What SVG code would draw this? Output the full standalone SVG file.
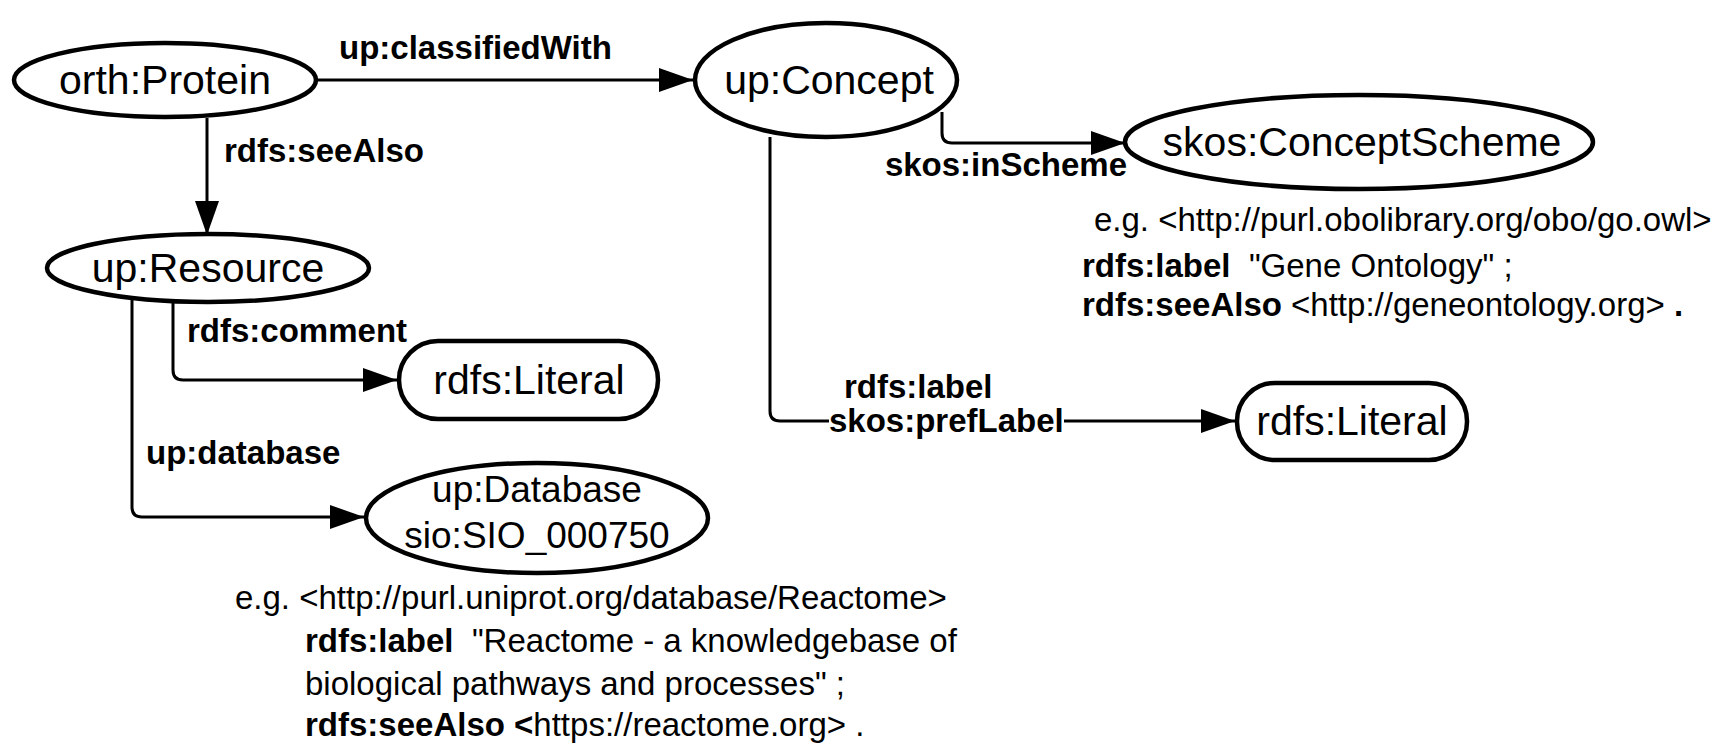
<svg xmlns="http://www.w3.org/2000/svg" width="1733" height="748" viewBox="0 0 1733 748">
<style>
.n{fill:#fff;stroke:#000;stroke-width:4.5}
.t{font-family:"Liberation Sans",Arial,sans-serif;font-size:41px;fill:#000;text-anchor:middle}
.s{font-size:37px}
.c{fill:none;stroke:#000;stroke-width:3;stroke-linejoin:round}
.l{font-family:"Liberation Sans",Arial,sans-serif;font-size:33px;font-weight:bold;fill:#000}
.d{font-family:"Liberation Sans",Arial,sans-serif;font-size:33px;fill:#000;white-space:pre}
.b{font-weight:bold}
</style>
<defs>
<marker id="a" markerUnits="userSpaceOnUse" markerWidth="35" markerHeight="24" refX="34" refY="12" orient="auto">
<path d="M0,0 L34,12 L0,24 Z" fill="#000"/>
</marker>
</defs>
<rect width="1733" height="748" fill="#fff"/>
<g id="connectors">
<path class="c" d="M318,80 H693" marker-end="url(#a)"/>
<path class="c" d="M207,118 V235" marker-end="url(#a)"/>
<path class="c" d="M942,112 V133 Q942,143 952,143 H1125" marker-end="url(#a)"/>
<path class="c" d="M770,137 V411 Q770,421 780,421 H1235" marker-end="url(#a)"/>
<path class="c" d="M173,300 V370 Q173,380 183,380 H397" marker-end="url(#a)"/>
<path class="c" d="M132,298 V507 Q132,517 142,517 H364" marker-end="url(#a)"/>
<text class="l" x="339" y="59">up:classifiedWith</text>
<text class="l" x="224" y="162">rdfs:seeAlso</text>
<text class="l" x="1127" y="176" text-anchor="end">skos:inScheme</text>
<text class="l" x="844" y="398">rdfs:label</text>
<rect x="829" y="405" width="235" height="30" fill="#fff"/>
<text class="l" x="829" y="432">skos:prefLabel</text>
<text class="l" x="187" y="342">rdfs:comment</text>
<text class="l" x="146" y="464">up:database</text>
</g>
<g id="orth-protein">
<ellipse class="n" cx="165" cy="80" rx="151" ry="37"/>
<text class="t" x="165" y="94">orth:Protein</text>
</g>
<g id="up-concept">
<ellipse class="n" cx="826" cy="80" rx="131" ry="57"/>
<text class="t" x="829" y="94">up:Concept</text>
</g>
<g id="skos-conceptscheme">
<ellipse class="n" cx="1359" cy="142" rx="234" ry="47"/>
<text class="t" x="1362" y="156">skos:ConceptScheme</text>
</g>
<g id="up-resource">
<ellipse class="n" cx="208" cy="268" rx="161" ry="34"/>
<text class="t" x="208" y="282">up:Resource</text>
</g>
<g id="rdfs-literal-1">
<rect class="n" x="399" y="341" width="259" height="78" rx="39"/>
<text class="t" x="529" y="394">rdfs:Literal</text>
</g>
<g id="rdfs-literal-2">
<rect class="n" x="1237" y="383" width="230" height="77" rx="38"/>
<text class="t" x="1352" y="435">rdfs:Literal</text>
</g>
<g id="up-database">
<ellipse class="n" cx="537" cy="518" rx="171" ry="55"/>
<text class="t s" x="537" y="502">up:Database</text>
<text class="t s" x="537" y="548">sio:SIO_000750</text>
</g>
<g id="notes">
<text class="d" x="1094" y="231">e.g. &lt;http://purl.obolibrary.org/obo/go.owl&gt;</text>
<text class="d" x="1082" y="277"><tspan class="b">rdfs:label</tspan>&#160; "Gene Ontology" ;</text>
<text class="d" x="1082" y="316"><tspan class="b">rdfs:seeAlso</tspan> &lt;http://geneontology.org&gt; <tspan class="b">.</tspan></text>
<text class="d" x="235" y="609">e.g. &lt;http://purl.uniprot.org/database/Reactome&gt;</text>
<text class="d" x="305" y="652"><tspan class="b">rdfs:label</tspan>&#160; "Reactome - a knowledgebase of</text>
<text class="d" x="305" y="695">biological pathways and processes" ;</text>
<text class="d" x="305" y="736"><tspan class="b">rdfs:seeAlso &lt;</tspan>https://reactome.org&gt; .</text>
</g>
</svg>
